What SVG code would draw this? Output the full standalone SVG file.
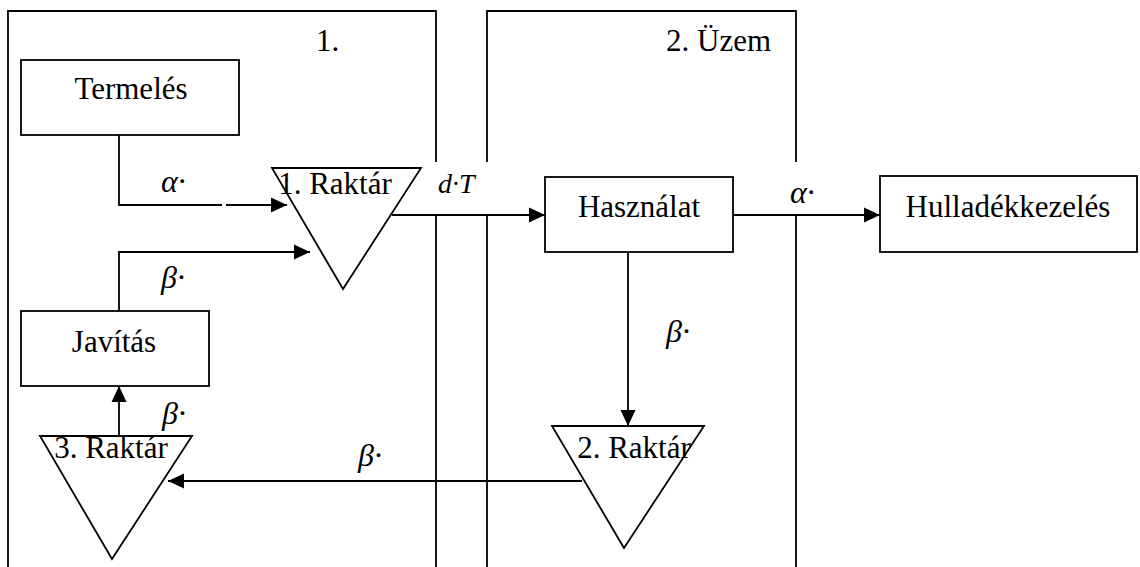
<svg xmlns="http://www.w3.org/2000/svg" width="1140" height="567" viewBox="0 0 1140 567">
<style>
.ln{fill:none;stroke:#000;stroke-width:1.8}
.box{fill:#fff;stroke:#000;stroke-width:1.8}
.t{font-family:"Liberation Serif","Times New Roman",serif;font-size:31px;fill:#000}
.m{font-family:"Liberation Serif","Times New Roman",serif;font-style:italic;font-size:32px;fill:#000}
.d{font-size:28px}
.c{text-anchor:middle}
</style>
<defs>
<marker id="ah" markerUnits="userSpaceOnUse" markerWidth="17" markerHeight="17" viewBox="0 0 17 17" refX="16" refY="8.5" orient="auto">
<path d="M0,1 L16,8.5 L0,16 Z" fill="#000"/>
</marker>
</defs>
<rect width="1140" height="567" fill="#fff"/>
<g id="frames">
<polyline class="ln" points="8,567 8,11 436,11 436,567"/>
<polyline class="ln" points="487,567 487,11 796,11 796,567"/>
<text class="t" x="316" y="51">1.</text>
<text class="t" x="666" y="51">2. Üzem</text>
</g>
<g id="label-boxes">
<rect x="424" y="162" width="78" height="52" fill="#fff"/>
<rect x="770" y="162" width="60" height="52" fill="#fff"/>
</g>
<g id="connectors">
<polyline class="ln" points="119,135 119,205 222,205"/>
<line class="ln" x1="226" y1="205" x2="287" y2="205" marker-end="url(#ah)"/>
<polyline class="ln" points="119,311 119,252 310,252" marker-end="url(#ah)"/>
<line class="ln" x1="392" y1="215" x2="545" y2="215" marker-end="url(#ah)"/>
<line class="ln" x1="733" y1="215" x2="880" y2="215" marker-end="url(#ah)"/>
<line class="ln" x1="628" y1="252" x2="628" y2="426" marker-end="url(#ah)"/>
<line class="ln" x1="582" y1="481" x2="168" y2="481" marker-end="url(#ah)"/>
<line class="ln" x1="119" y1="436" x2="119" y2="386" marker-end="url(#ah)"/>
<text class="m" x="161" y="192">α·</text>
<text class="m" x="161" y="288">β·</text>
<text class="m d" x="438" y="193">d·T</text>
<text class="m" x="790" y="203">α·</text>
<text class="m" x="666" y="342">β·</text>
<text class="m" x="162" y="424">β·</text>
<text class="m" x="358" y="466">β·</text>
</g>
<g id="termeles">
<rect class="box" x="21" y="60" width="218" height="75"/>
<text class="t c" x="131" y="99">Termelés</text>
</g>
<g id="javitas">
<rect class="box" x="21" y="311" width="188" height="75"/>
<text class="t c" x="114" y="352">Javítás</text>
</g>
<g id="hasznalat">
<rect class="box" x="545" y="177" width="188" height="75"/>
<text class="t c" x="639" y="217">Használat</text>
</g>
<g id="hulladekkezeles">
<rect class="box" x="880" y="176" width="257" height="76"/>
<text class="t c" x="1008" y="217">Hulladékkezelés</text>
</g>
<g id="raktar1">
<polygon class="ln" points="272,168 421,168 343,289"/>
<text class="t c" x="335" y="194">1. Raktár</text>
</g>
<g id="raktar2">
<polygon class="ln" points="552,426 704,426 624,548"/>
<text class="t c" x="634" y="458">2. Raktár</text>
</g>
<g id="raktar3">
<polygon class="ln" points="40,436 192,436 112,559"/>
<text class="t c" x="111" y="458">3. Raktár</text>
</g>
</svg>
